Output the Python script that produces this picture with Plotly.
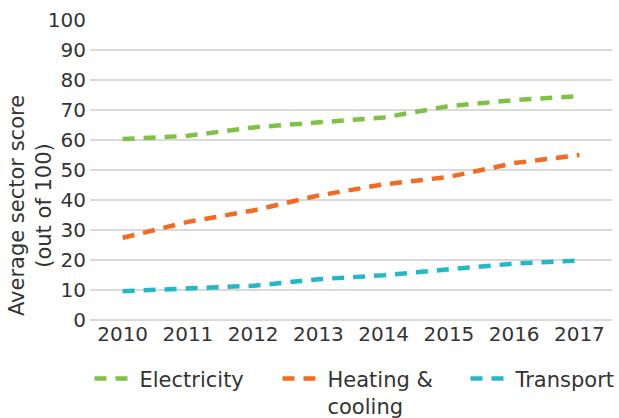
import plotly.graph_objects as go

years = ['2010', '2011', '2012', '2013', '2014', '2015', '2016', '2017']
electricity = [60.3, 61.4, 64.2, 65.7, 67.5, 71.3, 73.3, 74.6]
heating_cooling = [27.4, 32.7, 36.5, 41.5, 45.2, 47.7, 52.3, 55.0]
transport = [9.6, 10.6, 11.4, 13.6, 14.9, 16.9, 18.8, 19.8]

FONT = 'DejaVu Sans'
TEXT = '#333333'

series = [
    ('Electricity', electricity, '#7dc242'),
    ('Heating &<br>cooling', heating_cooling, '#f26b21'),
    ('Transport', transport, '#22b8c8'),
]

fig = go.Figure()
for name, vals, color in series:
    fig.add_trace(go.Scatter(
        x=years, y=vals, name=name, mode='lines',
        line=dict(color=color, width=4.5, dash='12px,9px'),
    ))

# y title as an annotation so it can sit lower than the axis centre
fig.add_annotation(
    text='Average sector score<br>(out of 100)',
    xref='paper', yref='paper', x=-0.115, y=0.383,
    xanchor='center', yanchor='middle',
    textangle=-90, showarrow=False,
    font=dict(family=FONT, size=21, color=TEXT),
)

fig.update_layout(
    width=619, height=418,
    paper_bgcolor='white', plot_bgcolor='white',
    margin=dict(l=90, r=7, t=20, b=98, autoexpand=False),
    font=dict(family=FONT, size=19, color=TEXT),
    xaxis=dict(
        type='category', range=[-0.5, 7.5], automargin=False,
        showgrid=False, showline=False, ticks='',
        tickfont=dict(size=20, color=TEXT),
    ),
    yaxis=dict(
        range=[0, 100], dtick=10, automargin=False,
        showgrid=True, gridcolor='#d9d9d9', gridwidth=1.5,
        zeroline=True, zerolinecolor='#d9d9d9', zerolinewidth=1.5,
        ticks='', ticklabelstandoff=3,
        tickfont=dict(size=20, color=TEXT),
    ),
    legend=dict(
        orientation='h', x=-0.001, xanchor='left', y=-0.128, yanchor='top',
        valign='top', entrywidth=133, entrywidthmode='pixels', itemwidth=40,
        font=dict(family=FONT, size=21, color=TEXT),
    ),
)

# drop the default 8px body margin so the figure fills the window exactly
fig.write_html('out.html', config={'displayModeBar': False},
               post_script="document.body.style.margin='0px';")
